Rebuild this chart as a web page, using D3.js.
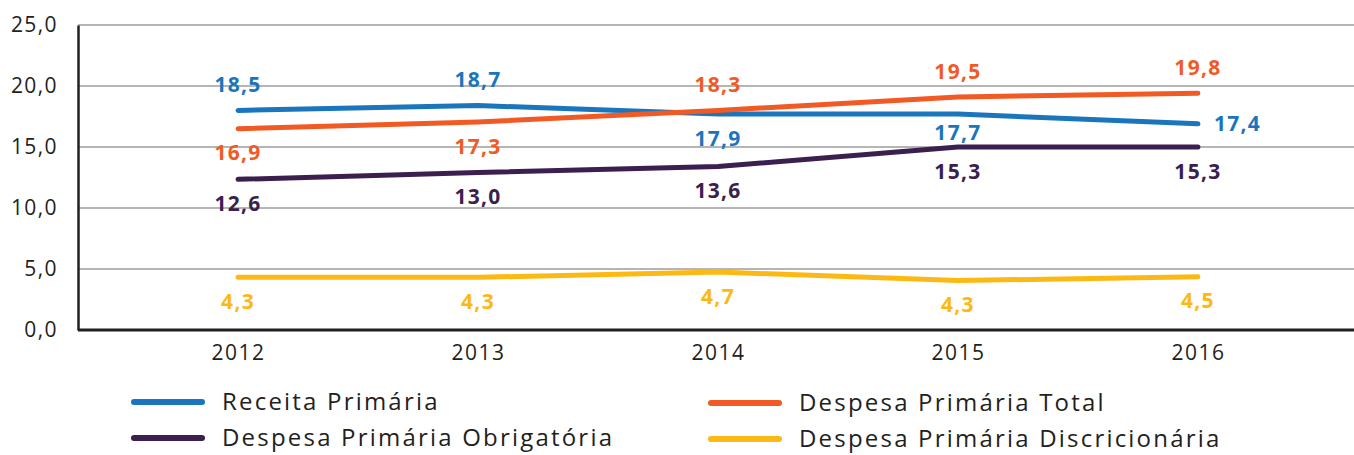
<!DOCTYPE html>
<html>
  <head>
    <meta charset="utf-8" />
    <title>receita-despesa</title>
    <style>
      body { margin: 0; background: #ffffff; }
      text { font-family: "Open Sans", "DejaVu Sans", sans-serif; }
    </style>
  </head>
  <body>
    <svg width="1354" height="455" id="mainsvg"></svg>
    <script src="https://cdn.jsdelivr.net/npm/d3@7"></script>
    <script>
      // anos no eixo x
      const years = ["2012", "2013", "2014", "2015", "2016"];
      const yTicks = [0, 5, 10, 15, 20, 25];

      // posicao das linhas
      const receita = [18.0, 18.4, 17.7, 17.7, 16.9];
      const despesaTotal = [16.5, 17.05, 18.0, 19.1, 19.4];
      const despesaObrig = [12.35, 12.9, 13.4, 15.0, 15.0];
      const despesaDiscr = [4.32, 4.32, 4.75, 4.05, 4.37];

      // rotulos impressos
      const receitaLbl = [18.5, 18.7, 17.9, 17.7, 17.4];
      const despesaTotalLbl = [16.9, 17.3, 18.3, 19.5, 19.8];
      const despesaObrigLbl = [12.6, 13.0, 13.6, 15.3, 15.3];
      const despesaDiscrLbl = [4.3, 4.3, 4.7, 4.3, 4.5];

      const series = [
        { name: "Receita Primária", color: "#1b75bc", values: receita, labels: receitaLbl, pos: ["up", "up", "down", "near", "right"] },
        { name: "Despesa Primária Total", color: "#f15a24", values: despesaTotal, labels: despesaTotalLbl, pos: ["down", "down", "up", "up", "up"] },
        { name: "Despesa Primária Obrigatória", color: "#3b1f4e", values: despesaObrig, labels: despesaObrigLbl, pos: ["down", "down", "down", "down", "down"] },
        { name: "Despesa Primária Discricionária", color: "#fdb913", values: despesaDiscr, labels: despesaDiscrLbl, pos: ["down", "down", "down", "down", "down"] },
      ];

      const svg = d3.select("#mainsvg");
      const plotLeft = 78, plotRight = 1358, plotTop = 25, plotBottom = 330;

      const xScale = d3.scalePoint().domain(years).range([plotLeft, plotRight]).padding(0.667);
      const yScale = d3.scaleLinear().domain([0, 25]).range([plotBottom, plotTop]);
      const fmt = (v) => d3.format(".1f")(v).replace(".", ",");
      const offset = { up: -26, down: 24, near: 18, right: 0 };

      // grade horizontal
      svg.append("g")
        .selectAll("line")
        .data(yTicks.filter((d) => d > 0))
        .join("line")
        .attr("x1", plotLeft).attr("x2", 1354)
        .attr("y1", (d) => yScale(d)).attr("y2", (d) => yScale(d))
        .attr("stroke", "#b5b5b5").attr("stroke-width", 2);

      // eixo y
      const yAxis = d3.axisLeft(yScale).tickValues(yTicks).tickSize(0).tickPadding(20).tickFormat(fmt);
      const yg = svg.append("g").attr("transform", `translate(${plotLeft},0)`).call(yAxis);
      yg.select(".domain").attr("stroke", "#231f20").attr("stroke-width", 2.5);
      yg.selectAll("text").attr("font-size", 21).attr("letter-spacing", 1.4).attr("fill", "#231f20").attr("font-family", "Open Sans");

      // eixo x
      const xAxis = d3.axisBottom(xScale).tickSize(0).tickPadding(15);
      const xg = svg.append("g").attr("transform", `translate(0,${plotBottom})`).call(xAxis);
      xg.select(".domain").attr("d", `M${plotLeft},0H1354`).attr("stroke", "#231f20").attr("stroke-width", 3);
      xg.selectAll("text").attr("font-size", 21).attr("letter-spacing", 1.5).attr("fill", "#231f20").attr("font-family", "Open Sans");

      const line = d3.line()
        .x((d, i) => xScale(years[i]))
        .y((d) => yScale(d));

      svg.append("g")
        .selectAll("path")
        .data(series)
        .join("path")
        .attr("d", (s) => line(s.values))
        .attr("fill", "none")
        .attr("stroke", (s) => s.color)
        .attr("stroke-width", 5)
        .attr("stroke-linecap", "round")
        .attr("stroke-linejoin", "round");

      // rotulos de valores
      series.forEach((s) => {
        svg.append("g")
          .selectAll("text")
          .data(s.values)
          .join("text")
          .attr("x", (d, i) => xScale(years[i]) + (s.pos[i] === "right" ? 16 : 0))
          .attr("y", (d, i) => yScale(d) + offset[s.pos[i]])
          .attr("dy", "0.36em")
          .attr("text-anchor", (d, i) => (s.pos[i] === "right" ? "start" : "middle"))
          .attr("font-size", 21)
          .attr("font-weight", 700)
          .attr("letter-spacing", 1.3)
          .attr("fill", s.color)
          .text((d, i) => fmt(s.labels[i]));
      });

      // legenda
      const legendPos = [
        [132, 402], [709, 403], [132, 438], [709, 439],
      ];
      const lg = svg.append("g");
      series.forEach((s, j) => {
        const [lx, ly] = legendPos[j];
        lg.append("line")
          .attr("x1", lx + 2).attr("x2", lx + 70)
          .attr("y1", ly).attr("y2", ly)
          .attr("stroke", s.color).attr("stroke-width", 6).attr("stroke-linecap", "round");
        lg.append("text")
          .attr("x", lx + 90).attr("y", ly)
          .attr("dy", "0.35em")
          .attr("font-size", 24)
          .attr("letter-spacing", 2.2)
          .attr("fill", "#231f20")
          .text(s.name);
      });
    </script>
  </body>
</html>
